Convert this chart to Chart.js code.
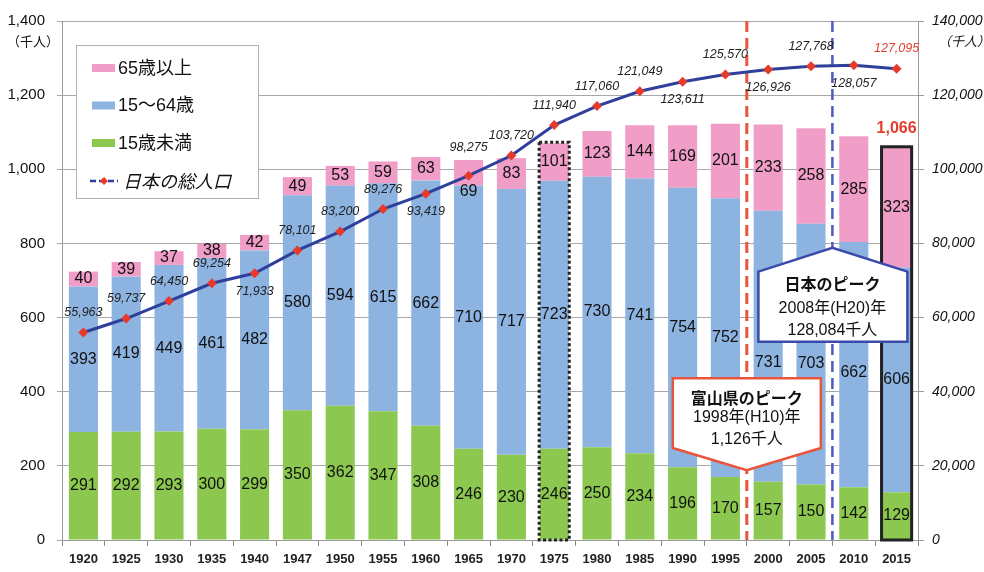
<!DOCTYPE html>
<html>
<head>
<meta charset="utf-8">
<script src="https://cdn.jsdelivr.net/npm/chart.js@4"></script>
<style>
  body { margin: 0; background: #fff; }
  #chart { display: block; }
</style>
</head>
<body>
<canvas id="chart" width="984" height="572"></canvas>
<script>
// データ（富山県の年齢別人口と日本の総人口）
const years = ["1920", "1925", "1930", "1935", "1940", "1947", "1950", "1955", "1960", "1965",
  "1970", "1975", "1980", "1985", "1990", "1995", "2000", "2005", "2010", "2015"];
const under15 = [291, 292, 293, 300, 299, 350, 362, 347, 308, 246, 230, 246, 250, 234, 196, 170, 157, 150, 142, 129];
const age15to64 = [393, 419, 449, 461, 482, 580, 594, 615, 662, 710, 717, 723, 730, 741, 754, 752, 731, 703, 662, 606];
const over65 = [40, 39, 37, 38, 42, 49, 53, 59, 63, 69, 83, 101, 123, 144, 169, 201, 233, 258, 285, 323];
const japanTotal = [55963, 59737, 64450, 69254, 71933, 78101, 83200, 89276, 93419, 98275,
  103720, 111940, 117060, 121049, 123611, 125570, 126926, 127768, 128057, 127095];
const toyamaTotal2015 = 1066;

const leftTickMax = 1400, leftTickStep = 200;
const rightTickMax = 140000, rightTickStep = 20000;

// 折れ線ラベルを下に置く点
const lineLabelBelow = [4, 8, 14, 16, 18];

const GREEN = "#8cc850";
const BLUE = "#8db3e0";
const PINK = "#f09dc8";
const NAVY = "#2f3f9c";
const RED = "#e63b2c";
const FONT = "'Liberation Sans', 'Noto Sans CJK JP', sans-serif";
const JFONT = "'Noto Sans CJK JP', 'Liberation Sans', sans-serif";

function fmt(n) {
  return n.toLocaleString("en-US");
}

const overlay = {
  id: "overlay",
  beforeDatasetDraw(chart, args) {
    if (args.index !== 3) return;
    // ピークの破線
    const ctx = chart.ctx, x = chart.scales.x, a = chart.chartArea;
    const step = x.getPixelForValue(1) - x.getPixelForValue(0);
    ctx.save();
    ctx.setLineDash([11, 6]);
    ctx.lineWidth = 3;
    ctx.strokeStyle = "#e8553a";
    let rx = x.getPixelForValue(15) + step / 2;
    ctx.beginPath(); ctx.moveTo(rx, a.top); ctx.lineTo(rx, a.bottom); ctx.stroke();
    ctx.lineWidth = 2.5;
    ctx.strokeStyle = "#4b5cc4";
    let bx = x.getPixelForValue(17) + step / 2;
    ctx.beginPath(); ctx.moveTo(bx, a.top); ctx.lineTo(bx, a.bottom); ctx.stroke();
    ctx.restore();
  },
  afterDatasetsDraw(chart) {
    const ctx = chart.ctx, x = chart.scales.x, y = chart.scales.y, a = chart.chartArea;
    const step = x.getPixelForValue(1) - x.getPixelForValue(0);
    ctx.save();

    // 棒の数値
    const shift = { "2-9": 19, "1-16": 16, "1-17": 10, "1-18": 8 };
    ctx.font = "16px " + FONT;
    ctx.fillStyle = "#111";
    ctx.textAlign = "center";
    ctx.textBaseline = "middle";
    [0, 1, 2].forEach(di => {
      const meta = chart.getDatasetMeta(di);
      meta.data.forEach((bar, i) => {
        const v = chart.data.datasets[di].data[i];
        const cy = (bar.y + bar.base) / 2 + (shift[di + "-" + i] || 0);
        ctx.fillText(String(v), bar.x, cy);
      });
    });

    // 1975 点線枠 / 2015 実線枠
    const barW = chart.getDatasetMeta(0).data[0].width;
    function frame(i, dash) {
      const top = y.getPixelForValue(under15[i] + age15to64[i] + over65[i]);
      const cx = x.getPixelForValue(i);
      ctx.save();
      ctx.lineWidth = 3;
      ctx.strokeStyle = "#222";
      ctx.setLineDash(dash);
      ctx.strokeRect(cx - barW / 2 - 0.5, top - 1, barW + 1, a.bottom - top + 1);
      ctx.restore();
    }
    frame(11, [3, 2.5]);
    frame(19, []);

    ctx.font = "bold 16px " + FONT;
    ctx.fillStyle = RED;
    ctx.fillText(fmt(toyamaTotal2015), x.getPixelForValue(19), y.getPixelForValue(1058) - 19);

    // 折れ線の数値
    const lm = chart.getDatasetMeta(3);
    ctx.font = "italic 12.5px " + FONT;
    lm.data.forEach((pt, i) => {
      const below = lineLabelBelow.includes(i);
      let dy = below ? 18 : -20;
      if (i === 9) dy = -28;
      ctx.fillStyle = i === japanTotal.length - 1 ? RED : "#222";
      ctx.fillText(fmt(japanTotal[i]), pt.x, pt.y + dy);
    });

    // 吹き出し
    function callout(cx, pts, color, lines) {
      ctx.save();
      ctx.beginPath();
      pts.forEach((p, k) => k ? ctx.lineTo(cx + p[0], y.getPixelForValue(p[1])) : ctx.moveTo(cx + p[0], y.getPixelForValue(p[1])));
      ctx.closePath();
      ctx.fillStyle = "#fff";
      ctx.fill();
      ctx.lineWidth = 2.5;
      ctx.strokeStyle = color;
      ctx.stroke();
      ctx.fillStyle = "#111";
      ctx.textAlign = "center";
      ctx.textBaseline = "middle";
      lines.forEach(l => {
        ctx.font = l[2];
        ctx.fillText(l[0], cx, y.getPixelForValue(l[1]));
      });
      ctx.restore();
    }
    const jx = x.getPixelForValue(17) + step / 2;
    callout(jx, [[-74, 724], [0, 788], [75, 724], [75, 535], [-74, 535]], "#3a4aaa", [
      ["日本のピーク", 691, "bold 16px " + JFONT],
      ["2008年(H20)年", 623, "16px " + FONT],
      ["128,084千人", 565, "16px " + FONT]
    ]);
    const tx = x.getPixelForValue(15) + step / 2;
    callout(tx, [[-74, 436], [74, 436], [74, 248], [0, 188], [-74, 248]], "#e8553a", [
      ["富山県のピーク", 383, "bold 16px " + JFONT],
      ["1998年(H10)年", 329, "16px " + FONT],
      ["1,126千人", 270, "16px " + FONT]
    ]);

    // 凡例
    ctx.fillStyle = "#fff";
    ctx.fillRect(76, 45, 183, 154);
    ctx.lineWidth = 1;
    ctx.strokeStyle = "#b0b0b0";
    ctx.strokeRect(76.5, 45.5, 182, 153);
    const items = [["65歳以上", PINK], ["15～64歳", BLUE], ["15歳未満", GREEN]];
    ctx.textAlign = "left";
    ctx.font = "18px " + FONT;
    items.forEach((it, k) => {
      const ly = 68 + k * 37.5;
      ctx.fillStyle = it[1];
      ctx.fillRect(92, ly - 4, 23, 8);
      ctx.fillStyle = "#111";
      ctx.fillText(it[0], 118, ly + 1);
    });
    ctx.strokeStyle = NAVY;
    ctx.lineWidth = 2.5;
    ctx.setLineDash([6, 3]);
    ctx.beginPath(); ctx.moveTo(90, 181); ctx.lineTo(118, 181); ctx.stroke();
    ctx.setLineDash([]);
    ctx.fillStyle = RED;
    ctx.beginPath(); ctx.moveTo(104, 177); ctx.lineTo(108, 181); ctx.lineTo(104, 185); ctx.lineTo(100, 181); ctx.fill();
    ctx.fillStyle = "#111";
    ctx.font = "italic 18px " + JFONT;
    ctx.fillText("日本の総人口", 123, 181);

    // 単位
    ctx.textAlign = "center";
    ctx.font = "13px " + JFONT;
    ctx.fillText("（千人）", 33, 41);
    ctx.font = "italic 13px " + JFONT;
    ctx.fillText("（千人）", 964, 41);
    ctx.restore();
  }
};

const chartElement = document.getElementById("chart");
new Chart(chartElement, {
  type: "bar",
  data: {
    labels: years,
    datasets: [
      { label: "15歳未満", data: under15, backgroundColor: GREEN, yAxisID: "y", order: 1, barPercentage: 0.68, categoryPercentage: 1 },
      { label: "15～64歳", data: age15to64, backgroundColor: BLUE, yAxisID: "y", order: 1, barPercentage: 0.68, categoryPercentage: 1 },
      { label: "65歳以上", data: over65, backgroundColor: PINK, yAxisID: "y", order: 1, barPercentage: 0.68, categoryPercentage: 1 },
      {
        type: "line", label: "日本の総人口", data: japanTotal, yAxisID: "y2", order: 0,
        borderColor: NAVY, borderWidth: 3, tension: 0,
        pointStyle: "rectRot", pointRadius: 5, pointBackgroundColor: RED, pointBorderWidth: 0
      }
    ]
  },
  options: {
    responsive: false,
    animation: false,
    layout: { padding: { top: 20 } },
    plugins: { legend: { display: false }, tooltip: { enabled: false } },
    scales: {
      x: {
        stacked: true,
        grid: { drawOnChartArea: false, tickLength: 6, color: "#888" },
        border: { color: "#999" },
        ticks: { color: "#222", padding: 6, font: { family: FONT, size: 13, weight: "bold" } },
        afterFit: s => { s.height = 32; }
      },
      y: {
        stacked: true, position: "left", min: 0, max: leftTickMax,
        grid: { color: "#a8a8a8", tickLength: 5 },
        border: { color: "#999" },
        ticks: { stepSize: leftTickStep, padding: 12, color: "#111", font: { family: FONT, size: 15 }, callback: v => fmt(v) },
        afterFit: s => { s.width = 62; }
      },
      y2: {
        position: "right", min: 0, max: rightTickMax,
        grid: { drawOnChartArea: false, tickLength: 6, color: "#999" },
        border: { color: "#999" },
        ticks: { stepSize: rightTickStep, padding: 8, color: "#111", font: { family: FONT, size: 14, style: "italic" }, callback: v => fmt(v) },
        afterFit: s => { s.width = 66; }
      }
    }
  },
  plugins: [overlay]
});
</script>
</body>
</html>
